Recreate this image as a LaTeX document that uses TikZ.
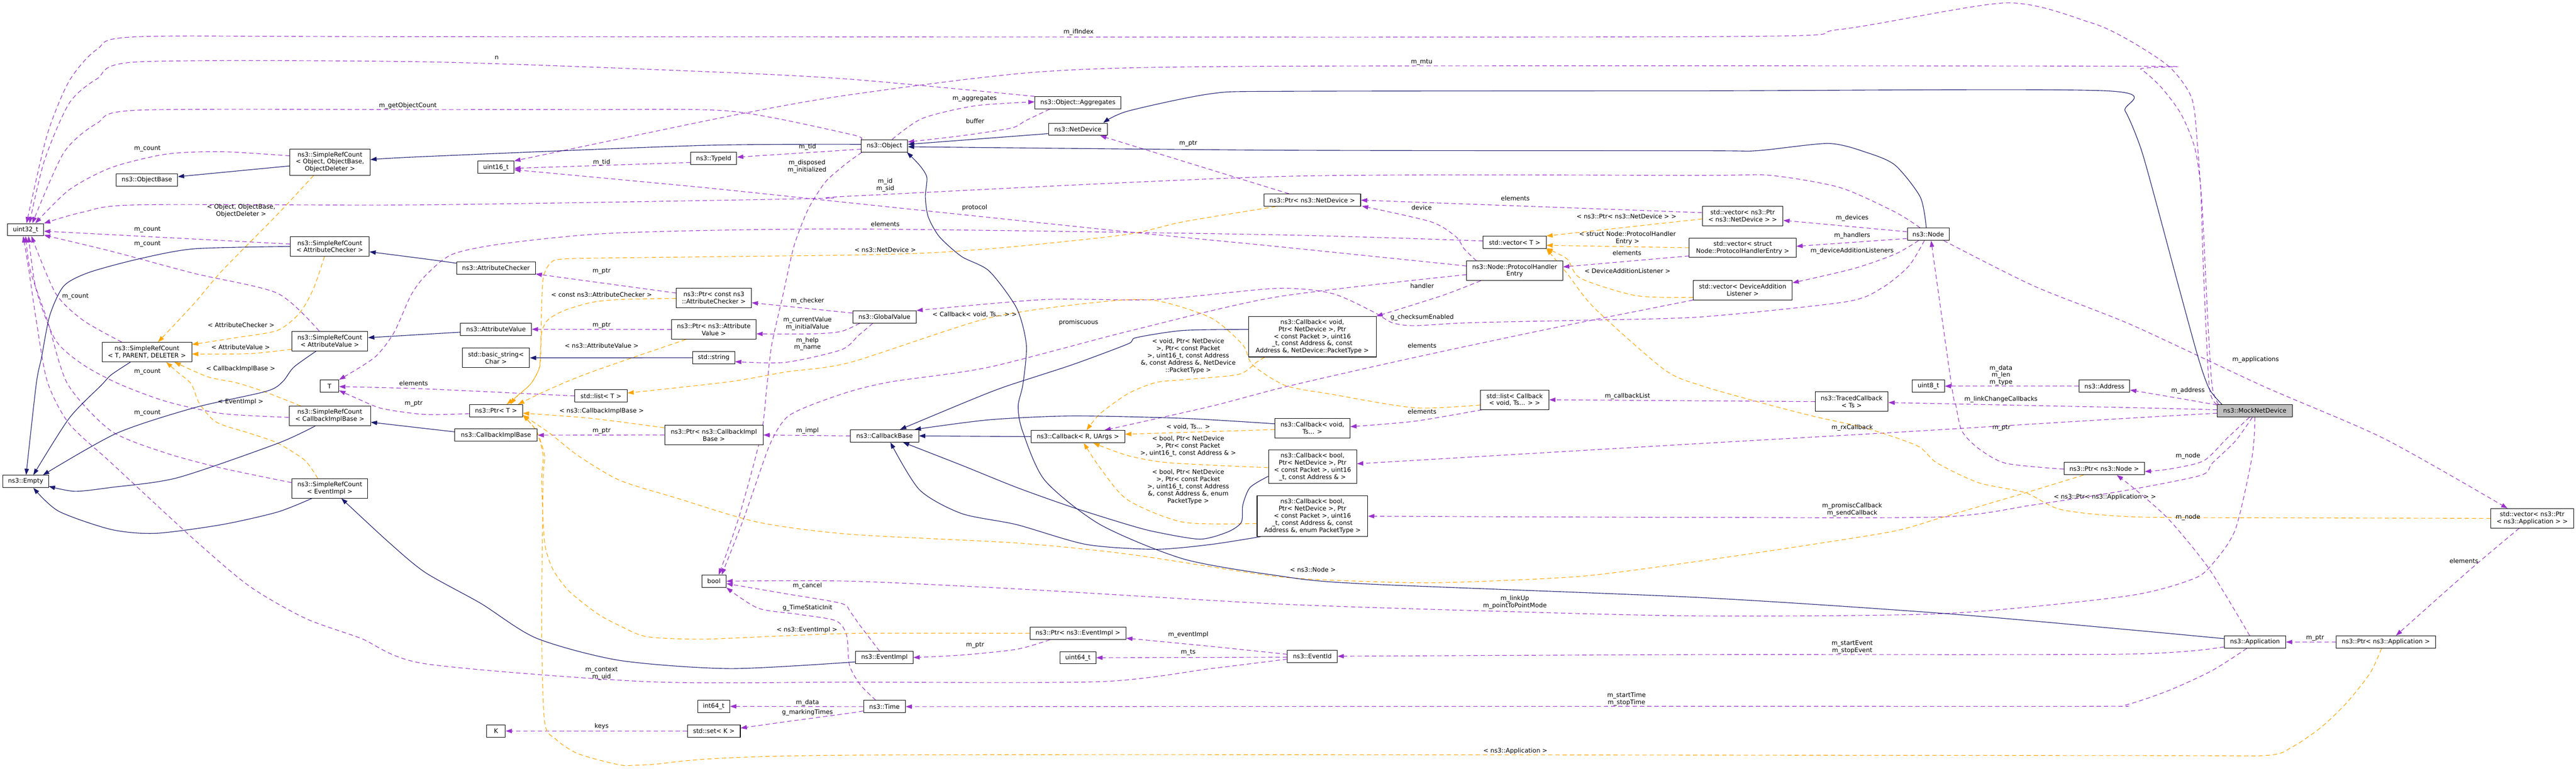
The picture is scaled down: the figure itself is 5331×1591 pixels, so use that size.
\documentclass[tikz,border=0pt]{standalone}
\usepackage{fontspec}
\setmainfont{DejaVu Sans}
\usetikzlibrary{arrows.meta,calc}
\pgfdeclarelayer{bg}
\pgfsetlayers{bg,main}
\newcommand\dxf{\fontsize{6.4}{7.4}\selectfont}
\definecolor{cpur}{HTML}{9A32CD}
\definecolor{corg}{HTML}{FFA500}
\definecolor{cnav}{HTML}{191970}
\definecolor{cgry}{HTML}{BFBFBF}
\tikzset{
  every plot/.style={tension=0.45},
  box/.style={draw=black, fill=white, line width=0.55pt, font=\dxf, align=center, inner xsep=1pt, inner ysep=0pt, minimum height=12.75pt},
  h2/.style={minimum height=20.15pt},
  h3/.style={minimum height=27.3pt},
  h4/.style={minimum height=34.2pt},
  h5/.style={minimum height=41.85pt},
  bw/.style={minimum width=#1*0.5pt},
  lab/.style={font=\dxf, align=center, inner sep=0pt},
  eUse/.style={draw=cpur, line width=0.6pt, dash pattern=on 4.5pt off 3pt, -{Triangle[length=6.5pt,width=4.5pt]}},
  eTpl/.style={draw=corg, line width=0.6pt, dash pattern=on 4.5pt off 3pt, -{Triangle[length=6.5pt,width=4.5pt]}},
  eInh/.style={draw=cnav, line width=0.6pt, -{Triangle[length=6.5pt,width=4.5pt]}}
}
\begin{document}
\begin{tikzpicture}[x=0.5pt,y=-0.5pt]
\useasboundingbox (0,0) rectangle (5331,1591);
% ---------------- nodes ----------------
\node[box,bw=75] (u32) at (53,475.5) {uint32\_t};
\node[box,bw=127] (objbase) at (304,372.7) {ns3::ObjectBase};
\node[box,h3,bw=166] (srcObj) at (682.8,335.5) {ns3::SimpleRefCount\\< Object, ObjectBase,\\ObjectDeleter >};
\node[box,h2,bw=163] (srcAC) at (682.5,510.2) {ns3::SimpleRefCount\\< AttributeChecker >};
\node[box,h2,bw=185.5] (srcT) at (304,728.8) {ns3::SimpleRefCount\\< T, PARENT, DELETER >};
\node[box,h2,bw=157.3] (srcAV) at (682.5,706) {ns3::SimpleRefCount\\< AttributeValue >};
\node[box,bw=38.5] (T) at (682,799.3) {T};
\node[box,bw=94.7] (empty) at (53,996.6) {ns3::Empty};
\node[box,h2,bw=168.7] (srcCIB) at (682.5,861) {ns3::SimpleRefCount\\< CallbackImplBase >};
\node[box,h2,bw=157.3] (srcEI) at (682.5,1011) {ns3::SimpleRefCount\\< EventImpl >};
\node[box,bw=74.7] (u16) at (1026.3,346.4) {uint16\_t};
\node[box,bw=95.2] (typeid) at (1477,328.3) {ns3::TypeId};
\node[box,bw=163] (ac) at (1026.4,554.8) {ns3::AttributeChecker};
\node[box,h2,bw=155.5] (ptrAC) at (1477.3,616.6) {ns3::Ptr< const ns3\\::AttributeChecker >};
\node[box,bw=147] (av) at (1026.4,681.6) {ns3::AttributeValue};
\node[box,h2,bw=175] (ptrAV) at (1477.3,682.1) {ns3::Ptr< ns3::Attribute\\Value >};
\node[box,h2,bw=139] (bstr) at (1026.4,740.8) {std::basic\_string<\\Char >};
\node[box,bw=87.2] (str) at (1477,740.6) {std::string};
\node[box,bw=108.5] (listT) at (1243.7,819.6) {std::list< T >};
\node[box,bw=109.7] (ptrT) at (1026.6,850.2) {ns3::Ptr< T >};
\node[box,bw=171] (cib) at (1026.4,900.8) {ns3::CallbackImplBase};
\node[box,h2,bw=203.8] (ptrCIB) at (1477.3,900.5) {ns3::Ptr< ns3::CallbackImpl\\Base >};
\node[box,bw=50.5] (bl) at (1477.5,1203) {bool};
\node[box,bw=118.8] (ei) at (1830.3,1361.1) {ns3::EventImpl};
\node[box,bw=66.6] (i64) at (1477,1462.2) {int64\_t};
\node[box,bw=38.5] (K) at (1026.6,1513.2) {K};
\node[box,bw=109.6] (setK) at (1477.3,1513.2) {std::set< K >};
\node[box,bw=178] (agg) at (2230.7,212.8) {ns3::Object::Aggregates};
\node[box,bw=121.6] (netdev) at (2230.7,267.6) {ns3::NetDevice};
\node[box,bw=95.9] (object) at (1830.3,301.8) {ns3::Object};
\node[box,bw=131.4] (gv) at (1830.3,656.1) {ns3::GlobalValue};
\node[box,h5,bw=264] (cbNet) at (2715.8,697) {ns3::Callback< void,\\Ptr< NetDevice >, Ptr\\< const Packet >, uint16\\\_t, const Address \&, const\\Address \&, NetDevice::PacketType >};
\node[box,bw=200] (ptrND) at (2715.8,414.3) {ns3::Ptr< ns3::NetDevice >};
\node[box,bw=141.2] (cbase) at (1830.6,902.3) {ns3::CallbackBase};
\node[box,bw=194] (cbRU) at (2230.7,903.8) {ns3::Callback< R, UArgs >};
\node[box,bw=198.6] (ptrEI) at (2230.7,1311) {ns3::Ptr< ns3::EventImpl >};
\node[box,bw=74.6] (u64) at (2230.7,1361.5) {uint64\_t};
\node[box,bw=86.7] (tm) at (1830.3,1462.7) {ns3::Time};
\node[box,bw=130.3] (vecT) at (3134.5,501.8) {std::vector< T >};
\node[box,h2,bw=199.2] (phe) at (3134.5,560.5) {ns3::Node::ProtocolHandler\\Entry};
\node[box,h2,bw=167] (vecPND) at (3606.4,447.2) {std::vector< ns3::Ptr\\< ns3::NetDevice > >};
\node[box,h2,bw=221] (vecPHE) at (3606.4,512.8) {std::vector< struct\\Node::ProtocolHandlerEntry >};
\node[box,h2,bw=205] (vecDAL) at (3606.4,600.5) {std::vector< DeviceAddition\\Listener >};
\node[box,h2,bw=141.8] (listCB) at (3134.5,827.5) {std::list< Callback\\< void, Ts... > >};
\node[box,h2,bw=155.5] (cbVoid) at (2716,886.2) {ns3::Callback< void,\\Ts... >};
\node[box,h4,bw=182.6] (cbBool4) at (2716.3,966) {ns3::Callback< bool,\\Ptr< NetDevice >, Ptr\\< const Packet >, uint16\\\_t, const Address \& >};
\node[box,h5,bw=229] (cbBool5) at (2716,1068.5) {ns3::Callback< bool,\\Ptr< NetDevice >, Ptr\\< const Packet >, uint16\\\_t, const Address \&, const\\Address \&, enum PacketType >};
\node[box,bw=103.3] (eventid) at (2715.8,1358.4) {ns3::EventId};
\node[box,bw=86.7] (nd) at (3990.4,484.7) {ns3::Node};
\node[box,bw=66.6] (u8) at (3990.7,799.3) {uint8\_t};
\node[box,bw=105] (addr) at (4355,799.3) {ns3::Address};
\node[box,h2,bw=151] (traced) at (3832,831.3) {ns3::TracedCallback\\< Ts >};
\node[box,bw=166.6] (ptrNode) at (4354.7,970.1) {ns3::Ptr< ns3::Node >};
\node[box,bw=155,fill=cgry] (mock) at (4666.3,850.3) {ns3::MockNetDevice};
\node[box,h2,bw=171] (vecApp) at (5240.2,1073) {std::vector< ns3::Ptr\\< ns3::Application > >};
\node[box,bw=127.1] (app) at (4666.6,1329) {ns3::Application};
\node[box,bw=205.4] (ptrApp) at (4937.4,1329) {ns3::Ptr< ns3::Application >};
% ---------------- labels ----------------
\node[lab] (la1) at (2232,67) {m\_ifIndex};
\node[lab] (la2) at (1028,120) {n};
\node[lab] (la3) at (2942,129) {m\_mtu};
\node[lab] (la4) at (844,219) {m\_getObjectCount};
\node[lab] (la5) at (1671,304) {m\_tid};
\node[lab] (la6) at (1245,336) {m\_tid};
\node[lab] (la7) at (1670,345) {m\_disposed\\m\_initialized};
\node[lab] (la8) at (1832,383) {m\_id\\m\_sid};
\node[lab] (la9) at (2017,430) {protocol};
\node[lab] (la10) at (1832,464) {elements};
\node[lab] (la11) at (856,793) {elements};
\node[lab] (la12) at (856,836) {m\_ptr};
\node[lab] (la13) at (305,308) {m\_count};
\node[lab] (la14) at (305,475) {m\_count};
\node[lab] (la15) at (305,505) {m\_count};
\node[lab] (la16) at (156,614) {m\_count};
\node[lab] (la17) at (305,769) {m\_count};
\node[lab] (la18) at (305,855) {m\_count};
\node[lab] (la19) at (1245,1394) {m\_context\\m\_uid};
\node[lab] (la20) at (2459,1314) {m\_eventImpl};
\node[lab] (la21) at (2459,1351) {m\_ts};
\node[lab] (la22) at (2018,1336) {m\_ptr};
\node[lab] (la23) at (1671,1455) {m\_data};
\node[lab] (la24) at (1671,1475) {g\_markingTimes};
\node[lab] (la25) at (1245,1504) {keys};
\node[lab] (la26) at (1671,1258) {g\_TimeStaticInit};
\node[lab] (la27) at (1671,1213) {m\_cancel};
\node[lab] (la28) at (3135,1247) {m\_linkUp\\m\_pointToPointMode};
\node[lab] (la29) at (2232,668) {promiscuous};
\node[lab] (la30) at (2943,657) {g\_checksumEnabled};
\node[lab] (la31) at (2943,592) {handler};
\node[lab] (la32) at (1671,623) {m\_checker};
\node[lab] (la33) at (1671,670) {m\_currentValue\\m\_initialValue};
\node[lab] (la34) at (1671,712) {m\_help\\m\_name};
\node[lab] (la35) at (1245,562) {m\_ptr};
\node[lab] (la36) at (1245,673) {m\_ptr};
\node[lab] (la37) at (1245,892) {m\_ptr};
\node[lab] (la38) at (1671,892) {m\_impl};
\node[lab] (la39) at (2017,204) {m\_aggregates};
\node[lab] (la40) at (2018,251) {buffer};
\node[lab] (la41) at (2459,297) {m\_ptr};
\node[lab] (la42) at (2942,430) {device};
\node[lab] (la43) at (3136,411) {elements};
\node[lab] (la44) at (3367,523) {elements};
\node[lab] (la45) at (3833,451) {m\_devices};
\node[lab] (la46) at (3833,488) {m\_handlers};
\node[lab] (la47) at (3833,520) {m\_deviceAdditionListeners};
\node[lab] (la48) at (4668,745) {m\_applications};
\node[lab] (la49) at (5099,1161) {elements};
\node[lab] (la50) at (4791,1321) {m\_ptr};
\node[lab] (la51) at (4528,1071) {m\_node};
\node[lab] (la52) at (4528,944) {m\_node};
\node[lab] (la53) at (4142,886) {m\_ptr};
\node[lab] (la54) at (4141,777) {m\_data\\m\_len\\m\_type};
\node[lab] (la55) at (4528,809) {m\_address};
\node[lab] (la56) at (4141,827) {m\_linkChangeCallbacks};
\node[lab] (la57) at (3368,820) {m\_callbackList};
\node[lab] (la58) at (2943,852) {elements};
\node[lab] (la59) at (3833,885) {m\_rxCallback};
\node[lab] (la60) at (3833,1055) {m\_promiscCallback\\m\_sendCallback};
\node[lab] (la61) at (2943,715) {elements};
\node[lab] (la62) at (3833,1340) {m\_startEvent\\m\_stopEvent};
\node[lab] (la63) at (3366,1447) {m\_startTime\\m\_stopTime};
\node[lab] (lo1) at (499,436) {< Object, ObjectBase,\\ObjectDeleter >};
\node[lab] (lo2) at (499,673) {< AttributeChecker >};
\node[lab] (lo3) at (498,719) {< AttributeValue >};
\node[lab] (lo4) at (498,764) {< CallbackImplBase >};
\node[lab] (lo5) at (498,832) {< EventImpl >};
\node[lab] (lo6) at (1245,610) {< const ns3::AttributeChecker >};
\node[lab] (lo7) at (1245,715) {< ns3::AttributeValue >};
\node[lab] (lo8) at (1245,851) {< ns3::CallbackImplBase >};
\node[lab] (lo9) at (1832,517) {< ns3::NetDevice >};
\node[lab] (lo10) at (1670,1304) {< ns3::EventImpl >};
\node[lab] (lo11) at (2717,1179) {< ns3::Node >};
\node[lab] (lo12) at (3136,1555) {< ns3::Application >};
\node[lab] (lo13) at (4356,1029) {< ns3::Ptr< ns3::Application > >};
\node[lab] (lo14) at (3366,448) {< ns3::Ptr< ns3::NetDevice > >};
\node[lab] (lo15) at (3368,493) {< struct Node::ProtocolHandler\\Entry >};
\node[lab] (lo16) at (3368,561) {< DeviceAdditionListener >};
\node[lab] (lo17) at (2017,651) {< Callback< void, Ts... > >};
\node[lab] (lo18) at (2459,737) {< void, Ptr< NetDevice\\>, Ptr< const Packet\\>, uint16\_t, const Address\\\&, const Address \&, NetDevice\\::PacketType >};
\node[lab] (lo19) at (2459,883) {< void, Ts... >};
\node[lab] (lo20) at (2459,924) {< bool, Ptr< NetDevice\\>, Ptr< const Packet\\>, uint16\_t, const Address \& >};
\node[lab] (lo21) at (2459,1008) {< bool, Ptr< NetDevice\\>, Ptr< const Packet\\>, uint16\_t, const Address\\\&, const Address \&, enum\\PacketType >};
% ---------------- edges ----------------
\begin{pgfonlayer}{bg}
\fill[white] (0,0) rectangle (5331,1591);
% usage (purple)
\draw[eUse] plot[smooth] coordinates {(mock.north west) (4572,800) (4560,561) (4555,408) (4548,306) (4536,204) (4489,138) (4400,80) (4324,46) (4151,6) (3807,61) (3520,76) (900,76) (287,76) (201,102) (143,168) (97,281) ($(u32.north)+(2,0)$)};
\draw[eUse] plot[smooth] coordinates {(agg.north west) (1760,164) (1454,148) (880,128) (287,128) (201,163) (143,214) (92,332) ($(u32.north)+(8,0)$)};
\draw[eUse] plot[smooth] coordinates {($(mock.north west)+(3,0)$) (4578,800) (4569,663) (4556,408) (4542,306) (4513,235) (4471,179) (4430,143) (4400,137) (2660,137) (2162,148) (1760,196) (1511,240) (u16.north east)};
\draw[eUse] plot[smooth] coordinates {(object.north west) (1760,278) (1511,230) (1200,227) (880,227) (287,228) (201,255) (132,316) ($(u32.north)+(14,0)$)};
\draw[eUse] ($(object.west)+(0,7)$) -- ($(typeid.east)+(0,-3)$);
\draw[eUse] ($(typeid.west)+(0,8)$) -- ($(u16.east)+(0,2)$);
\draw[eUse] plot[smooth] coordinates {($(object.south west)+(2,0)$) (1760,332) (1741,347) (1707,378) (1672,434) (1643,510) (1620,612) (1597,714) (1587,800) (1575,900) (1529,1071) ($(bl.north)+(10,0)$)};
\draw[eUse] plot[smooth] coordinates {($(phe.west)+(0,8)$) (2640,615) (2334,686) (2047,760) (1846,790) (1760,810) (1672,841) (1626,866) (1592,923) (1540,1071) ($(bl.north)+(16,0)$)};
\draw[eUse] plot[smooth] coordinates {($(nd.north)+(-17,0)$) (3922,439) (3807,388) (3663,363) (3520,363) (2660,365) (1760,406) (1684,411) (880,424) (287,424) (172,439) (u32.north east)};
\draw[eUse] plot[smooth] coordinates {($(phe.west)+(0,-10)$) (2640,510) (2334,480) (1760,420) (1454,388) ($(u16.east)+(0,5)$)};
\draw[eUse] plot[smooth] coordinates {($(vecT.west)+(0,-3)$) (2640,486) (1760,474) (1282,482) (1052,503) (937,526) (880,571) (850,612) (815,689) (775,740) (T.north east)};
\draw[eUse] plot[smooth] coordinates {(listT.west) (880,805) ($(T.east)+(0,1)$)};
\draw[eUse] plot[smooth] coordinates {($(ptrT.west)+(0,6)$) (880,858) (792,846) (746,828) ($(T.east)+(0,9)$)};
\draw[eUse] plot[smooth] coordinates {($(srcObj.west)+(0,-13)$) (459,314) (344,319) (230,347) (143,393) ($(u32.north)+(20,0)$)};
\draw[eUse] ($(srcAC.west)+(0,-5)$) -- ($(u32.east)+(0,3)$);
\draw[eUse] plot[smooth] coordinates {($(srcAV.north)+(-22,0)$) (574,607) (402,566) (230,520) ($(u32.south east)+(0,-2)$)};
\draw[eUse] plot[smooth] coordinates {($(srcT.north)+(-52,0)$) (172,663) (115,607) ($(u32.south)+(12,0)$)};
\draw[eUse] plot[smooth] coordinates {($(srcCIB.west)+(0,3)$) (459,856) (344,831) (247,795) (172,755) (115,704) (75,600) ($(u32.south)+(6,0)$)};
\draw[eUse] plot[smooth] coordinates {($(srcEI.west)+(0,-12)$) (459,969) (344,938) (230,892) (140,795) (98,663) (63,561) (u32.south)};
\draw[eUse] plot[smooth] coordinates {($(eventid.west)+(0,6)$) (2506,1384) (2277,1411) (1760,1412) (1339,1411) (880,1374) (746,1321) (632,1280) (517,1214) (402,1117) (230,958) (143,877) (98,790) (75,663) (60,561) ($(u32.south)+(-5,0)$)};
\draw[eUse] plot[smooth] coordinates {($(eventid.west)+(0,-4)$) (2506,1338) ($(ptrEI.east)+(0,10)$)};
\draw[eUse] ($(eventid.west)+(0,2)$) -- (u64.east);
\draw[eUse] plot[smooth] coordinates {($(ptrEI.south west)+(42,0)$) (2104,1344) (1990,1356) (ei.east)};
\draw[eUse] (tm.west) -- (i64.east);
\draw[eUse] plot[smooth] coordinates {($(tm.west)+(0,9)$) (1760,1476) (1626,1494) ($(setK.east)+(0,-6)$)};
\draw[eUse] (setK.west) -- (K.east);
\draw[eUse] plot[smooth] coordinates {($(tm.north)+(-18,0)$) (1780,1417) (1758,1377) (1752,1315) (1730,1285) (1655,1272) (1569,1259) (bl.south east)};
\draw[eUse] plot[smooth] coordinates {($(ei.north)+(-10,0)$) (1780,1295) (1760,1267) (1741,1249) (1626,1229) ($(bl.east)+(0,5)$)};
\draw[eUse] plot[smooth] coordinates {(mock.south) (4661,943) (4626,1096) (4578,1168) (4537,1199) (4400,1234) (4025,1270) (3520,1275) (3088,1265) (2640,1250) (2104,1219) (1760,1203) (bl.east)};
\draw[eUse] plot[smooth] coordinates {($(nd.south)+(-8,0)$) (3950,551) (3893,597) (3818,625) (3520,656) (3271,663) (3042,668) (2927,674) (2881,668) (2841,645) (2755,607) (2640,597) (2391,620) (2162,620) (gv.north east)};
\draw[eUse] plot[smooth] coordinates {($(phe.south west)+(30,0)$) (2984,612) (cbNet.north east)};
\draw[eUse] ($(gv.west)+(0,-8)$) -- ($(ptrAC.east)+(0,10)$);
\draw[eUse] plot[smooth] coordinates {($(gv.south west)+(15,0)$) (1741,686) (1684,691) ($(ptrAV.east)+(0,9)$)};
\draw[eUse] plot[smooth] coordinates {($(gv.south west)+(42,0)$) (1777,694) (1741,724) (1626,750) ($(str.east)+(0,8)$)};
\draw[eUse] ($(ptrAC.west)+(0,-10)$) -- ($(ac.south east)+(0,-1)$);
\draw[eUse] (ptrAV.west) -- (av.east);
\draw[eUse] (ptrCIB.west) -- (cib.east);
\draw[eUse] (cbase.west) -- (ptrCIB.east);
\draw[eUse] plot[smooth] coordinates {($(object.north)+(16,0)$) (1909,245) (2018,219) ($(agg.west)+(0,-2)$)};
\draw[eUse] plot[smooth] coordinates {($(agg.south west)+(31,0)$) (2122,250) (2093,265) (1990,281) ($(object.east)+(0,-8)$)};
\draw[eUse] ($(ptrND.north west)+(52,0)$) -- ($(netdev.south)+(46,0)$);
\draw[eUse] plot[smooth] coordinates {($(phe.north west)+(21,0)$) (3030,515) (3013,490) (2961,459) ($(ptrND.south east)+(2,-1)$)};
\draw[eUse] ($(vecPND.west)+(0,-7)$) -- (ptrND.east);
\draw[eUse] ($(vecPHE.west)+(0,17)$) -- ($(phe.east)+(0,-8)$);
\draw[eUse] ($(nd.west)+(0,-5)$) -- ($(vecPND.east)+(0,9)$);
\draw[eUse] ($(nd.west)+(0,9)$) -- ($(vecPHE.east)+(0,-3)$);
\draw[eUse] plot[smooth] coordinates {($(nd.south)+(-20,0)$) (3922,526) (3836,556) ($(vecDAL.east)+(0,-15)$)};
\draw[eUse] plot[smooth] coordinates {($(nd.south east)+(-12,0)$) (4209,592) (4410,672) (4685,800) (4934,908) ($(vecApp.north west)+(35,0)$)};
\draw[eUse] plot[smooth] coordinates {($(vecApp.south)+(-27,0)$) (5113,1178) ($(ptrApp.north)+(21,0)$)};
\draw[eUse] (ptrApp.west) -- (app.east);
\draw[eUse] plot[smooth] coordinates {($(app.north)+(-11,0)$) (4572,1178) (4489,1076) (4420,1014) ($(ptrNode.south)+(26,0)$)};
\draw[eUse] plot[smooth] coordinates {($(mock.south)+(-11,0)$) (4608,908) (4560,954) (4489,971) ($(ptrNode.east)+(0,6)$)};
\draw[eUse] plot[smooth] coordinates {($(ptrNode.west)+(0,1)$) (4151,959) (4094,928) (4060,892) (4048,841) (4039,800) ($(nd.south)+(6,0)$)};
\draw[eUse] (addr.west) -- (u8.east);
\draw[eUse] plot[smooth] coordinates {($(mock.west)+(0,-12)$) (4489,821) ($(addr.east)+(0,8)$)};
\draw[eUse] plot[smooth] coordinates {($(mock.west)+(0,-2)$) (4420,844) ($(traced.east)+(0,2)$)};
\draw[eUse] (traced.west) -- (listCB.east);
\draw[eUse] plot[smooth] coordinates {($(listCB.south west)+(4,0)$) (2927,872) ($(cbVoid.east)+(0,-3)$)};
\draw[eUse] plot[smooth] coordinates {($(mock.west)+(0,5)$) (4400,866) (3922,895) (3520,918) ($(cbBool4.east)+(0,-6)$)};
\draw[eUse] plot[smooth] coordinates {($(mock.south)+(-5,0)$) (4626,913) (4578,959) (4554,984) (4400,1015) (4209,1045) (4019,1070) (3520,1071) (cbBool5.east)};
\draw[eUse] plot[smooth] coordinates {(vecDAL.south west) (3214,679) (2927,740) (2663,800) (2506,841) ($(cbRU.north)+(55,0)$)};
\draw[eUse] plot[smooth] coordinates {($(app.west)+(0,10)$) (4400,1354) (3520,1355) (eventid.east)};
\draw[eUse] plot[smooth] coordinates {($(app.south)+(-17,0)$) (4578,1388) (4489,1429) (4400,1459) (4340,1462) (3520,1462) (tm.east)};
% template (orange)
\draw[eTpl] plot[smooth] coordinates {($(srcObj.south)+(-34,0)$) (574,444) (459,561) (402,628) ($(srcT.north)+(23,0)$)};
\draw[eTpl] plot[smooth] coordinates {($(srcAC.south)+(-11,0)$) (649,597) (620,648) (574,684) (488,699) ($(srcT.north east)+(0,5)$)};
\draw[eTpl] plot[smooth] coordinates {($(srcAV.west)+(0,17)$) (517,732) ($(srcT.east)+(0,4)$)};
\draw[eTpl] plot[smooth] coordinates {($(srcCIB.north west)+(25,0)$) (545,810) (488,792) (430,780) ($(srcT.south)+(57,0)$)};
\draw[eTpl] plot[smooth] coordinates {($(srcEI.north)+(-25,0)$) (631,953) (574,917) (517,897) (448,874) (413,836) (396,795) (367,770) ($(srcT.south)+(40,0)$)};
\draw[eTpl] plot[smooth] coordinates {($(ptrAC.west)+(0,1)$) (1282,620) (1224,626) (1167,643) (1133,663) (1121,689) (1118,740) (1115,765) (1098,795) (1069,821) ($(ptrT.north)+(22,0)$)};
\draw[eTpl] plot[smooth] coordinates {($(ptrAV.south west)+(30,0)$) (1310,740) (1224,770) (1173,790) (1121,813) ($(ptrT.north east)+(-10,0)$)};
\draw[eTpl] plot[smooth] coordinates {($(ptrCIB.west)+(0,-15)$) (1224,866) ($(ptrT.east)+(0,5)$)};
\draw[eTpl] plot[smooth] coordinates {($(ptrND.south west)+(25,0)$) (2449,459) (2334,485) (2104,510) (1932,523) (1760,528) (1339,533) (1167,536) (1138,546) (1124,577) (1120,663) (1119,740) (1115,765) (1098,795) (1069,821) ($(ptrT.north)+(30,0)$)};
\draw[eTpl] plot[smooth] coordinates {(ptrEI.west) (1780,1311) (1626,1316) (1454,1323) (1339,1318) (1282,1295) (1236,1270) (1178,1224) (1144,1178) (1127,1122) (1121,994) (1124,943) (1110,892) ($(ptrT.east)+(0,9)$)};
\draw[eTpl] plot[smooth] coordinates {($(ptrNode.south west)+(41,0)$) (4192,1020) (4019,1071) (3922,1099) (3750,1127) (3520,1161) (3271,1193) (2984,1206) (2812,1203) (2640,1193) (2334,1147) (2104,1124) (1760,1106) (1569,1081) (1397,1030) (1282,994) (1196,943) (1138,897) ($(ptrT.east)+(0,9)$)};
\draw[eTpl] plot[smooth] coordinates {($(ptrApp.south)+(-9,0)$) (4905,1393) (4857,1454) (4804,1505) (4744,1546) (4685,1564) (4400,1564) (1780,1563) (1339,1583) (1282,1583) (1196,1560) (1150,1530) (1127,1494) (1121,1300) (1124,994) (1127,943) (1110,892) ($(ptrT.east)+(0,9)$)};
\draw[eTpl] plot[smooth] coordinates {(vecApp.west) (4756,1072) (4420,1070) (4266,1055) (4192,1020) (4094,999) (4008,958) (3968,923) (3864,887) (3750,861) (3635,831) (3520,798) (3444,765) (3300,638) (3243,566) (vecT.south east)};
\draw[eTpl] ($(vecPND.west)+(0,6)$) -- (vecT.north east);
\draw[eTpl] (vecPHE.west) -- ($(vecT.east)+(0,6)$);
\draw[eTpl] plot[smooth] coordinates {($(vecDAL.west)+(0,15)$) (3386,612) (3271,576) (3243,536) ($(vecT.south east)+(0,-1)$)};
\draw[eTpl] plot[smooth] coordinates {($(listCB.west)+(0,11)$) (2927,844) (2755,816) (2660,798) (2592,755) (2572,714) (2506,658) (2391,622) (2277,625) (2047,658) (1760,750) (1626,770) (1511,790) ($(listT.east)+(0,-6)$)};
\draw[eTpl] plot[smooth] coordinates {($(cbNet.south west)+(34,0)$) (2600,750) (2563,775) (2449,786) (2391,792) (2334,815) (2277,856) ($(cbRU.north)+(18,0)$)};
\draw[eTpl] ($(cbVoid.west)+(0,3)$) -- ($(cbRU.east)+(0,-5)$);
\draw[eTpl] plot[smooth] coordinates {($(cbBool4.west)+(0,2)$) (2420,958) (2334,943) ($(cbRU.south)+(32,0)$)};
\draw[eTpl] plot[smooth] coordinates {($(cbBool5.west)+(0,15)$) (2449,1081) (2334,1035) (2277,969) ($(cbRU.south)+(12,0)$)};
% inheritance (navy)
\draw[eInh] ($(srcObj.west)+(0,8)$) -- ($(objbase.east)+(0,-7)$);
\draw[eInh] plot[smooth] coordinates {($(object.west)+(0,-3)$) (1454,301) (880,324) ($(srcObj.east)+(0,-5)$)};
\draw[eInh] plot[smooth] coordinates {($(ac.west)+(0,-10)$) (880,536) ($(srcAC.east)+(0,11)$)};
\draw[eInh] plot[smooth] coordinates {(srcAC.west) (402,515) (287,536) (184,564) (132,592) (103,653) (86,740) (75,795) ($(empty.north)+(1,0)$)};
\draw[eInh] ($(av.west)+(0,6)$) -- ($(srcAV.east)+(0,-7)$);
\draw[eInh] plot[smooth] coordinates {($(srcAV.south)+(-28,0)$) (608,760) (585,790) (551,810) (402,844) (241,897) ($(empty.north east)+(-12,0)$)};
\draw[eInh] plot[smooth] coordinates {($(srcT.south)+(-34,0)$) (230,776) (210,797) (143,866) ($(empty.north)+(16,0)$)};
\draw[eInh] plot[smooth] coordinates {($(cib.west)+(0,-7)$) (880,887) ($(srcCIB.east)+(0,13)$)};
\draw[eInh] plot[smooth] coordinates {($(srcCIB.south)+(-30,0)$) (574,918) (367,989) (230,1009) (155,1017) ($(empty.east)+(0,10)$)};
\draw[eInh] plot[smooth] coordinates {($(ei.west)+(0,9)$) (1511,1384) (1282,1367) (1110,1321) (995,1249) (880,1185) (804,1122) ($(srcEI.south)+(24,0)$)};
\draw[eInh] plot[smooth] coordinates {($(srcEI.south)+(-37,0)$) (574,1060) (459,1086) (322,1104) (230,1096) (121,1058) ($(empty.south)+(16,0)$)};
\draw[eInh] (str.west) -- (bstr.east);
\draw[eInh] plot[smooth] coordinates {($(app.west)+(0,-7)$) (4400,1303) (4025,1270) (3520,1237) (2812,1208) (2640,1191) (2449,1157) (2277,1086) (2162,994) (2116,892) (2107,841) (2117,795) (2124,714) (2104,638) (2047,561) (1990,531) (1944,490) (1921,449) (1915,408) (1918,367) (1903,342) ($(object.south east)+(-2,0)$)};
\draw[eInh] ($(netdev.west)+(0,9)$) -- ($(object.east)+(0,-3)$);
\draw[eInh] plot[smooth] coordinates {($(mock.north west)+(10,0)$) (4572,805) (4549,740) (4507,587) (4459,408) (4430,306) (4398,230) (4358,188) (3520,188) (2660,189) (2506,194) (2334,230) ($(netdev.north east)+(-9,0)$)};
\draw[eInh] plot[smooth] coordinates {($(nd.north)+(-4,0)$) (3974,408) (3922,342) (3864,316) (3784,297) (3635,312) (3520,312) (2660,311) ($(object.east)+(0,2)$)};
\draw[eInh] (cbRU.west) -- (cbase.east);
\draw[eInh] plot[smooth] coordinates {($(cbNet.west)+(0,-15)$) (2449,684) (2351,699) (2334,712) (2219,755) (2081,800) (2004,830) ($(cbase.north)+(32,0)$)};
\draw[eInh] plot[smooth] coordinates {($(cbVoid.west)+(0,-9)$) (2449,866) (2219,861) (2047,869) ($(cbase.north east)+(-9,0)$)};
\draw[eInh] plot[smooth] coordinates {($(cbBool4.west)+(0,20)$) (2587,1009) (2572,1045) (2569,1081) (2541,1101) (2483,1116) (2391,1101) (2334,1086) (2219,1050) (2104,1009) (1990,963) ($(cbase.south)+(38,0)$)};
\draw[eInh] plot[smooth] coordinates {($(cbBool5.south west)+(8,0)$) (2506,1127) (2391,1137) (2248,1127) (2104,1086) (1990,1063) (1903,1014) ($(cbase.south)+(12,0)$)};
\end{pgfonlayer}
\end{tikzpicture}
\end{document}
